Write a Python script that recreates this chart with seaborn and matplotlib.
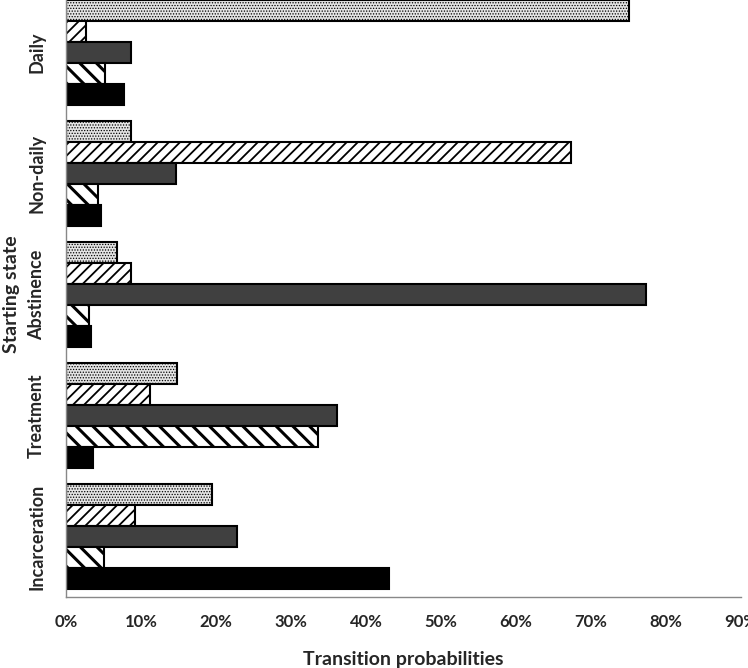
import pandas as pd
import matplotlib
matplotlib.use("Agg")
import matplotlib.pyplot as plt
import seaborn as sns
from matplotlib.ticker import FuncFormatter

# starting states (top to bottom) and destination series
states = ["Daily", "Non-daily", "Abstinence", "Treatment", "Incarceration"]
destinations = ["Daily", "Non-daily", "Abstinence", "Treatment", "Incarceration"]

# transition probabilities (%) into each destination, per starting state
to_daily = [75.0, 8.7, 6.8, 14.8, 19.4]
to_nondaily = [2.7, 67.3, 8.7, 11.2, 9.2]
to_abstinence = [8.6, 14.6, 77.3, 36.1, 22.8]
to_treatment = [5.2, 4.2, 3.1, 33.6, 5.0]
to_incarceration = [7.7, 4.6, 3.3, 3.6, 43.1]

x_ticks = [0, 10, 20, 30, 40, 50, 60, 70, 80, 90]

series = [to_daily, to_nondaily, to_abstinence, to_treatment, to_incarceration]
rows = []
for dest, vals in zip(destinations, series):
    for st, v in zip(states, vals):
        rows.append({"start": st, "dest": dest, "prob": v})
df = pd.DataFrame(rows)

sns.set_style("white")
plt.rcParams["font.family"] = ["Lato", "DejaVu Sans"]
plt.rcParams["hatch.linewidth"] = 1.3

faces = ["#e4e4e4", "#ffffff", "#404040", "#ffffff", "#000000"]
hatches = ["......", "///", None, "\\\\", None]

fig = plt.figure(figsize=(7.48, 6.68), dpi=100)
ax = fig.add_axes([66 / 748, 1 - 597 / 668, 675 / 748, 605 / 668])

sns.barplot(data=df, x="prob", y="start", hue="dest", order=states,
            hue_order=destinations, orient="h", width=0.87, palette=faces,
            saturation=1, edgecolor="black", linewidth=1.5, legend=False, ax=ax)

for cont, h in zip(ax.containers, hatches):
    for bar in cont:
        if h:
            bar.set_hatch(h)
            if hasattr(bar, "set_hatch_linewidth"):
                if h.startswith("\\"):
                    bar.set_hatch_linewidth(2.2)
                elif h.startswith("."):
                    bar.set_hatch_linewidth(0.6)

ax.set_xlim(0, 90)
ax.set_ylim(4.5, -0.5)
ax.set_xticks(x_ticks)
ax.xaxis.set_major_formatter(FuncFormatter(lambda v, p: f"{v:.0f}%"))
ax.tick_params(axis="x", which="major", direction="out", length=6, width=1,
               color="#888888", pad=6, labelsize=12)
for lab in ax.get_xticklabels():
    lab.set_fontweight("bold")

ax.set_yticks(range(len(states)))
ax.set_yticklabels(states, rotation=90, va="center", fontsize=13, fontweight="bold")
ax.set_yticks([i + 0.5 for i in range(-1, len(states))], minor=True)
ax.tick_params(axis="y", which="major", length=0, pad=15)
ax.tick_params(axis="y", which="minor", direction="out", length=6, width=1,
               color="#888888")

for side in ["top", "right"]:
    ax.spines[side].set_visible(False)
for side in ["left", "bottom"]:
    ax.spines[side].set_color("#888888")
    ax.spines[side].set_linewidth(1)

ax.set_xlabel("Transition probabilities", fontsize=14, fontweight="bold", labelpad=15)
ax.set_ylabel("Starting state", fontsize=14, fontweight="bold", labelpad=6)

fig.savefig("out.png", dpi=100)
